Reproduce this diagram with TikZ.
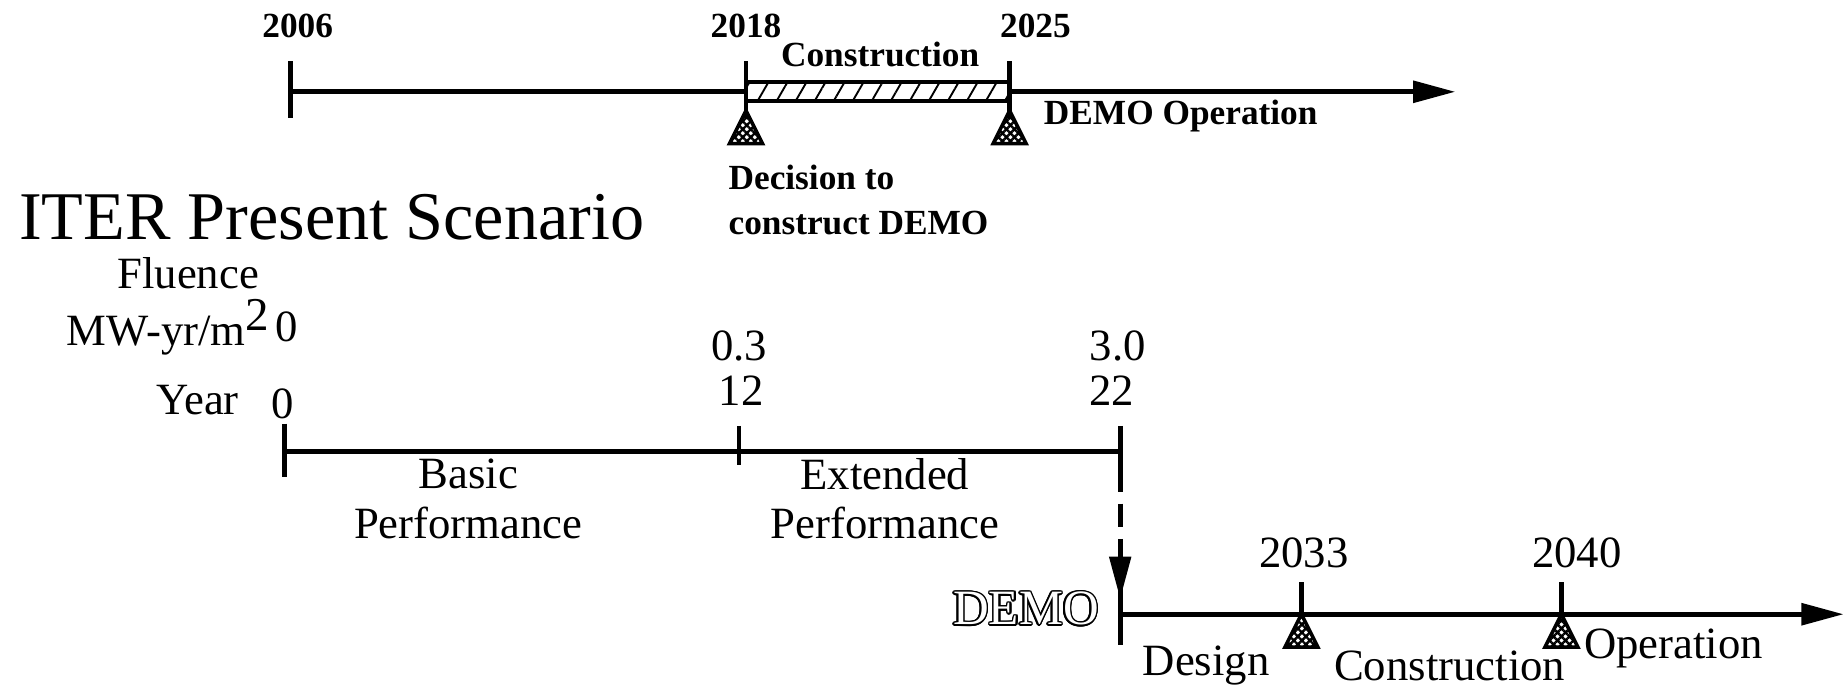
\documentclass[tikz,border=0pt]{standalone}
\usepackage{fontspec}
\setmainfont{Liberation Serif}
\usepackage[copies]{contour}
\usetikzlibrary{arrows.meta,patterns.meta,calc,positioning}
\tikzstyle{timeline}=[line width=2.2pt, line cap=butt]
\tikzstyle{tickmark}=[line width=2pt]
\tikzstyle{head}    =[-{Triangle[length=18pt,width=9pt]}]
\tikzstyle{boldtxt} =[inner sep=0pt, font=\fontsize{15}{17}\selectfont\bfseries]
\tikzstyle{txt}     =[inner sep=0pt, font=\fontsize{19}{21}\selectfont]
\tikzset{milestone/.pic={
    \draw[line width=1.5pt, line join=miter,
          pattern={Hatch[angle=45,distance=2.4pt,line width=1pt]}]
      (0,0) -- (-14,28) -- (14,28) -- cycle;}}
\contourlength{0.7pt}

\begin{document}
\begin{tikzpicture}[x=0.5pt, y=-0.5pt, timeline]
    \useasboundingbox (0,0) rectangle (1568,585);
    % ---- DEMO plan, upper line
    \coordinate (t0) at (247,78);
    \coordinate (t1) at (634,78);
    \coordinate (t2) at (858,78);
    \coordinate (tend) at (1237,78);
    \draw[head] (t0) -- (tend);
    \foreach \i in {0,1,2}
        \draw[tickmark] ($(t\i)+(0,-26)$) -- ($(t\i)+(0,22)$);
    \fill[white] ($(t1)+(0,-8)$) rectangle ($(t2)+(0,8)$);
    \draw[line width=1.8pt, pattern={Lines[angle=60,distance=7pt,line width=0.8pt]}]
        ($(t1)+(0,-8)$) rectangle ($(t2)+(0,8)$);
    \pic at ($(t1)+(0,16)$) {milestone};
    \pic at ($(t2)+(0,16)$) {milestone};
    \node[boldtxt] (y2006) at (253,22) {2006};
    \node[boldtxt] (y2018) at (634,22) {2018};
    \node[boldtxt] (y2025) at (880,22) {2025};
    \node[boldtxt] (cons)  at (748,46) {Construction};
    \node[boldtxt, anchor=west] (oper) at (885,99) {DEMO Operation};
    \node[boldtxt, anchor=north west, align=left] (decide) at (617,138)
        {Decision to\\[2pt]construct DEMO};

    % ---- ITER present scenario
    \node[inner sep=0pt, anchor=west, font=\fontsize{29}{30}\selectfont]
        (title) at (14,185) {ITER Present Scenario};
    \node[txt] (flu)  at (160,232) {Fluence};
    \node[txt, anchor=east] (unit) at (232,278) {MW-yr/m\textsuperscript{\fontsize{20}{20}\selectfont 2}};
    \node[txt] (f0)   at (244,278) {0};
    \node[txt] (f1)   at (628,294) {0.3};
    \node[txt] (f2)   at (950,294) {3.0};
    \node[txt] (yr)   at (168,340) {Year};
    \node[txt] (n0)   at (240,343) {0};
    \node[txt] (n12)  at (630,332) {12};
    \node[txt] (n22)  at (945,332) {22};

    \coordinate (m0) at (242,384);
    \coordinate (m1) at (628,384);
    \coordinate (m2) at (952,384);
    \draw (m0) -- (m2);
    \draw[tickmark] ($(m0)+(0,-24)$) -- ($(m0)+(0,21)$);
    \draw[tickmark] ($(m1)+(0,-22)$) -- ($(m1)+(0,11)$);
    \draw[tickmark] ($(m2)+(0,-22)$) -- ($(m2)+(0,14)$);
    \draw[tickmark, dash pattern=on 10pt off 5pt] ($(m2)+(0,14)$) -- ($(m2)+(0,66)$);
    \coordinate (d0) at (952,458);
    \coordinate (d1) at (952,509);
    \draw[tickmark, head] (d0) -- (d1);
    \node[txt, align=center] (basic) at (398,424) {Basic\\Performance};
    \node[txt, align=center] (ext)   at (752,424) {Extended\\Performance};

    % ---- DEMO, lower line
    \coordinate (b0) at (952,522);
    \coordinate (b1) at (1106,522);
    \coordinate (b2) at (1327,522);
    \coordinate (bend) at (1567,522);
    \draw[head] (b0) -- (bend);
    \draw[tickmark] ($(b0)+(0,-32)$) -- ($(b0)+(0,26)$);
    \foreach \i in {1,2}
        \draw[tickmark] ($(b\i)+(0,-27)$) -- (b\i);
    \pic at (b1) {milestone};
    \pic at (b2) {milestone};
    \node[txt] (demo) at (872,518) {\fontsize{21}{21}\selectfont\contour{black}{\textcolor{white}{DEMO}}};
    \node[txt] (y2033) at (1108,470) {2033};
    \node[txt] (y2040) at (1340,470) {2040};
    \node[txt] (des)   at (1025,566) {Design};
    \node[txt] (bcons) at (1232,566) {Construction};
    \node[txt, anchor=west] (boper) at (1344,551) {Operation};
\end{tikzpicture}
\end{document}
